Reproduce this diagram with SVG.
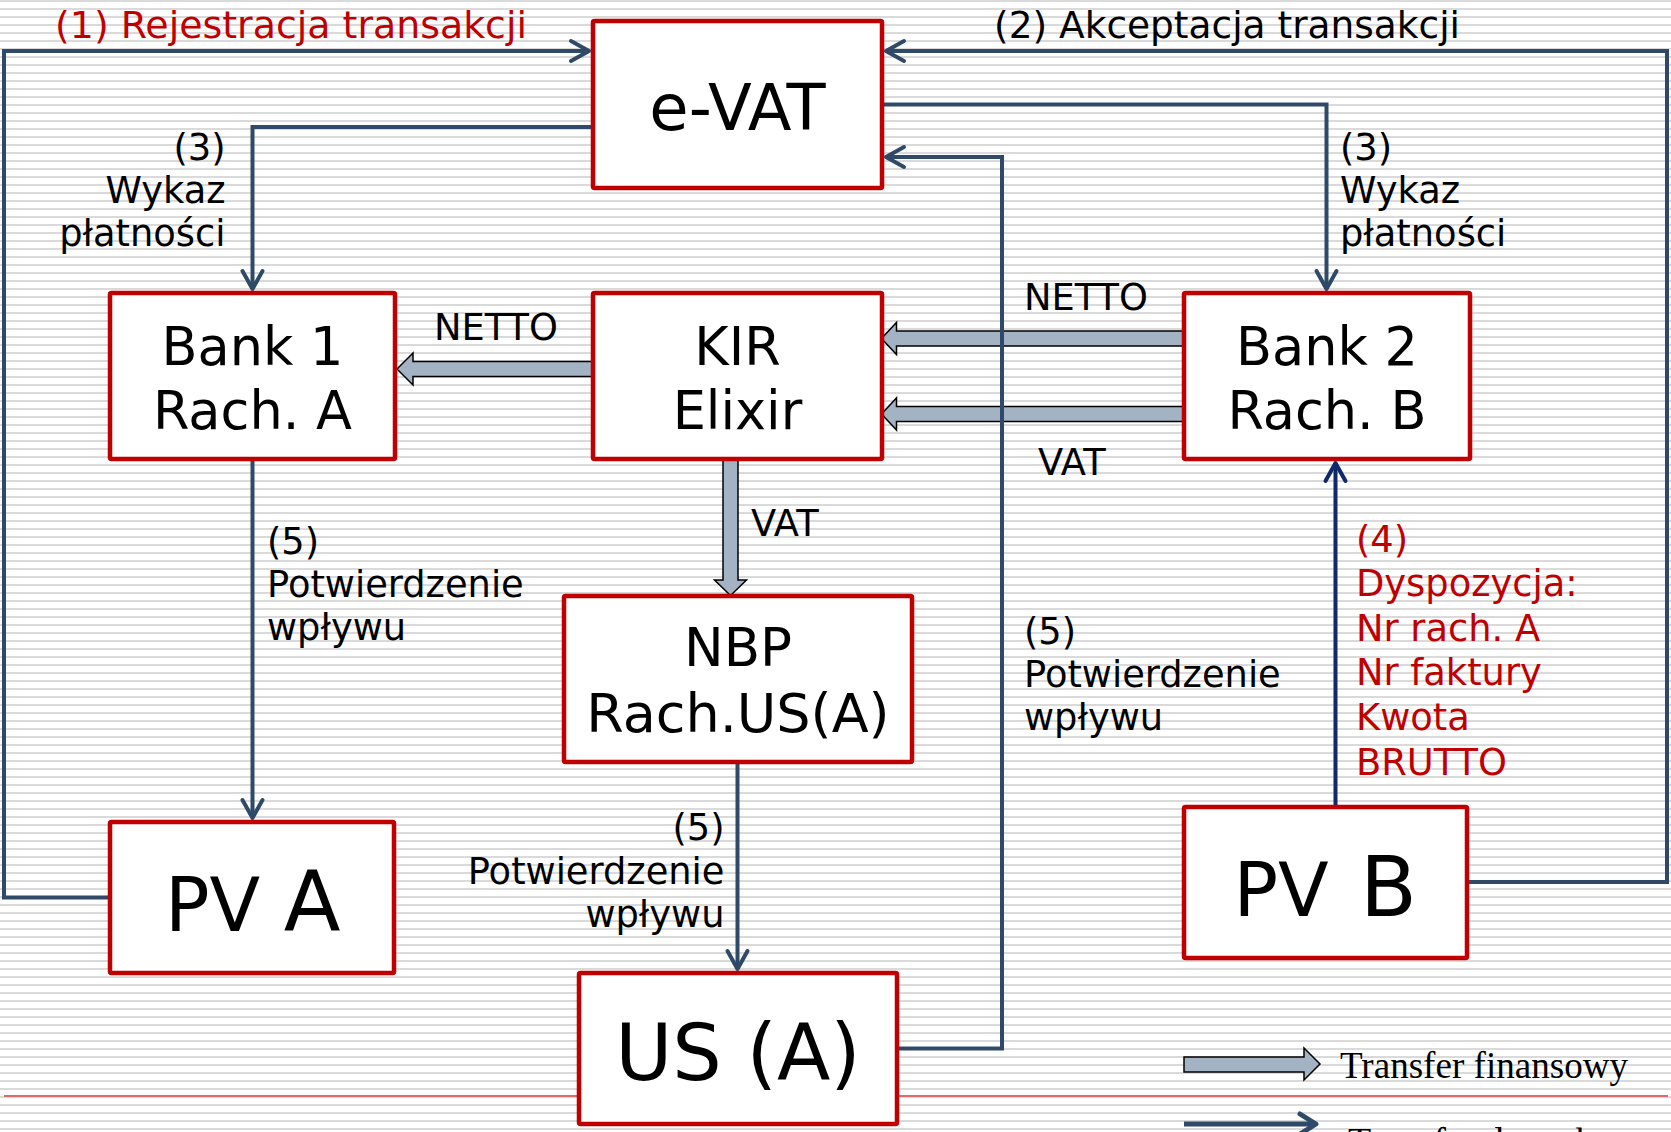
<svg xmlns="http://www.w3.org/2000/svg" width="1671" height="1132" viewBox="0 0 1671 1132">
  <defs>
    <pattern id="stripes" x="0" y="0" width="8" height="8" patternUnits="userSpaceOnUse">
      <rect x="0" y="0" width="8" height="2" fill="#DADADA"/>
    </pattern>
    <marker id="chev" markerUnits="userSpaceOnUse" markerWidth="30" markerHeight="30" viewBox="-24 -15 30 30" refX="0" refY="0" orient="auto" overflow="visible">
      <path d="M-18,-10 L0,0 L-18,10" fill="none" stroke="#2F4A68" stroke-width="4" stroke-linecap="round" stroke-linejoin="round"/>
    </marker>
    <marker id="chevNavy" markerUnits="userSpaceOnUse" markerWidth="30" markerHeight="30" viewBox="-24 -15 30 30" refX="0" refY="0" orient="auto" overflow="visible">
      <path d="M-18,-10 L0,0 L-18,10" fill="none" stroke="#10296B" stroke-width="4" stroke-linecap="round" stroke-linejoin="round"/>
    </marker>
    <marker id="chevBold" markerUnits="userSpaceOnUse" markerWidth="30" markerHeight="30" viewBox="-24 -15 30 30" refX="0" refY="0" orient="auto" overflow="visible">
      <path d="M-16,-10 L0,0 L-16,10" fill="none" stroke="#2F4A68" stroke-width="5" stroke-linecap="round" stroke-linejoin="round"/>
    </marker>
  </defs>
  <style>
    .node rect { fill: #FFFFFF; stroke: #C00000; stroke-width: 4.5; }
    .node text { font-family: "DejaVu Sans", Verdana, sans-serif; fill: #000000; text-anchor: middle; }
    .data { fill: none; stroke: #2F4A68; stroke-width: 4; marker-end: url(#chev); }
    .money { fill: #A3B3C3; stroke: #000000; stroke-width: 1.5; stroke-linejoin: miter; }
    .lbl { font-family: "DejaVu Sans", Verdana, sans-serif; font-size: 36.8px; fill: #000000; }
    .red { fill: #C00000; }
    .end { text-anchor: end; }
    .legend { font-family: "Liberation Serif", "Times New Roman", serif; font-size: 38px; fill: #000000; }
  </style>

  <!-- striped backdrop -->
  <rect x="0" y="0" width="1671" height="1132" fill="#FFFFFF"/>
  <rect x="0" y="0" width="1671" height="1132" fill="url(#stripes)"/>
  <line x1="4" y1="1096" x2="1668" y2="1096" stroke="#E06A6A" stroke-width="2"/>

  <!-- connectors: money transfers (block arrows) and data flows (lines) -->
  <g id="connectors">
    <polygon class="money" points="594,361.5 413,361.5 413,353 397,369 413,385 413,376.5 594,376.5"/>
    <polygon class="money" points="1184,331 896.5,331 896.5,322.5 881.5,338.5 896.5,354.5 896.5,346 1184,346"/>
    <polygon class="money" points="1184,406.5 896.5,406.5 896.5,398 881.5,414 896.5,430 896.5,421.5 1184,421.5"/>
    <polygon class="money" points="723,459 723,580 714.5,580 730.5,595.5 746.5,580 738,580 738,459"/>

    <path class="data" d="M110,897.5 H4 V51 H589"/>
    <path class="data" d="M1467,882 H1667 V51 H886"/>
    <path class="data" d="M593,127 H252.5 V289"/>
    <path class="data" d="M882,104.5 H1326.5 V289"/>
    <path class="data" d="M252.5,459 V818"/>
    <path class="data" d="M737.5,762 V969"/>
    <path class="data" d="M897,1048.5 H1002 V157 H886"/>
    <path d="M1335.5,807 V463" fill="none" stroke="#10296B" stroke-width="4" marker-end="url(#chevNavy)"/>
  </g>

  <!-- nodes -->
  <g id="evat" class="node">
    <rect x="593" y="21" width="289" height="167" rx="1.5"/>
    <text x="737.5" y="130" font-size="64">e-VAT</text>
  </g>
  <g id="bank1" class="node">
    <rect x="110" y="293" width="285" height="166" rx="1.5"/>
    <text x="252.5" y="365" font-size="52.5">Bank 1</text>
    <text x="252.5" y="429" font-size="52.5">Rach. A</text>
  </g>
  <g id="kir" class="node">
    <rect x="593" y="293" width="289" height="166" rx="1.5"/>
    <text x="737.5" y="365" font-size="52.5">KIR</text>
    <text x="737.5" y="429" font-size="52.5">Elixir</text>
  </g>
  <g id="bank2" class="node">
    <rect x="1184" y="293" width="286" height="166" rx="1.5"/>
    <text x="1327" y="365" font-size="52.5">Bank 2</text>
    <text x="1327" y="429" font-size="52.5">Rach. B</text>
  </g>
  <g id="nbp" class="node">
    <rect x="564" y="596" width="348" height="166" rx="1.5"/>
    <text x="738" y="666" font-size="53">NBP</text>
    <text x="738" y="732" font-size="54">Rach.US(A)</text>
  </g>
  <g id="pva" class="node">
    <rect x="110" y="822" width="284" height="151" rx="1.5"/>
    <text x="165" y="931" style="text-anchor:start"><tspan font-size="74">PV </tspan><tspan font-size="83">A</tspan></text>
  </g>
  <g id="usa" class="node">
    <rect x="579" y="973" width="318" height="151" rx="1.5"/>
    <text x="738" y="1080" font-size="78">US (A)</text>
  </g>
  <g id="pvb" class="node">
    <rect x="1184" y="807" width="283" height="151" rx="1.5"/>
    <text x="1233.5" y="915.5" font-size="74" style="text-anchor:start">PV</text>
    <text x="1360" y="915.5" font-size="83" style="text-anchor:start">B</text>
  </g>

  <!-- flow labels -->
  <g id="labels">
    <text class="lbl red" x="55" y="38" font-size="37.5" textLength="472" lengthAdjust="spacingAndGlyphs">(1) Rejestracja transakcji</text>
    <text class="lbl" x="994" y="38" font-size="37.5" textLength="466" lengthAdjust="spacingAndGlyphs">(2) Akceptacja transakcji</text>

    <text class="lbl end" x="225.5" y="160">(3)</text>
    <text class="lbl end" x="225.5" y="203">Wykaz</text>
    <text class="lbl end" x="225.5" y="246">płatności</text>

    <text class="lbl" x="1340" y="160">(3)</text>
    <text class="lbl" x="1340" y="203">Wykaz</text>
    <text class="lbl" x="1340" y="246">płatności</text>

    <text class="lbl" x="434" y="340">NETTO</text>
    <text class="lbl" x="1024" y="310">NETTO</text>
    <text class="lbl" x="1038" y="475">VAT</text>
    <text class="lbl" x="751" y="536">VAT</text>

    <text class="lbl" x="267" y="554">(5)</text>
    <text class="lbl" x="267" y="597">Potwierdzenie</text>
    <text class="lbl" x="267" y="640">wpływu</text>

    <text class="lbl end" x="724.5" y="840">(5)</text>
    <text class="lbl end" x="724.5" y="883.5">Potwierdzenie</text>
    <text class="lbl end" x="724.5" y="927">wpływu</text>

    <text class="lbl" x="1024" y="644">(5)</text>
    <text class="lbl" x="1024" y="687">Potwierdzenie</text>
    <text class="lbl" x="1024" y="730">wpływu</text>

    <text class="lbl red" x="1356" y="552" font-size="37.5">(4)</text>
    <text class="lbl red" x="1356" y="596" font-size="37.5">Dyspozycja:</text>
    <text class="lbl red" x="1356" y="640.5" font-size="37.5">Nr rach. A</text>
    <text class="lbl red" x="1356" y="685" font-size="37.5">Nr faktury</text>
    <text class="lbl red" x="1356" y="730" font-size="37.5">Kwota</text>
    <text class="lbl red" x="1356" y="775" font-size="37.5">BRUTTO</text>
  </g>

  <!-- legend -->
  <g id="legend">
    <polygon class="money" points="1184,1057 1304,1057 1304,1048 1320,1064 1304,1080 1304,1072 1184,1072"/>
    <text class="legend" x="1340" y="1078" textLength="288" lengthAdjust="spacingAndGlyphs">Transfer finansowy</text>
    <path d="M1184,1124 H1316" fill="none" stroke="#2F4A68" stroke-width="5" marker-end="url(#chevBold)"/>
    <text class="legend" x="1348" y="1154">Transfer danych</text>
  </g>
</svg>
